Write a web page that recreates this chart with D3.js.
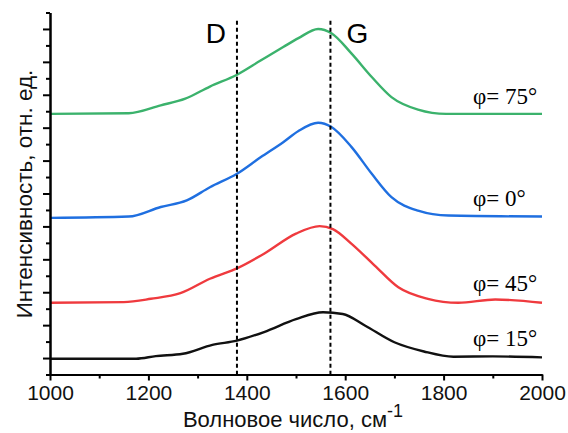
<!DOCTYPE html>
<html>
<head>
<meta charset="utf-8">
<script src="https://cdn.jsdelivr.net/npm/d3@7"></script>
<style>
  body { margin: 0; background: #fff; }
  svg { display: block; }
</style>
</head>
<body>
<svg id="chart" width="568" height="433"></svg>
<script>
// Raman spectra (offset vertically) for several polarization angles
const wavenumbers15 = [1000, 1175, 1215, 1270, 1330, 1380, 1435, 1500, 1555, 1595, 1640, 1700, 1760, 1820, 1900, 2000];
const phi15 = [0.48, 0.48, 0.56, 0.63, 0.90, 1.03, 1.29, 1.68, 1.89, 1.84, 1.49, 0.98, 0.70, 0.54, 0.55, 0.52];

const wavenumbers45 = [1000, 1150, 1205, 1265, 1325, 1382, 1435, 1500, 1548, 1575, 1613, 1660, 1708, 1768, 1830, 1905, 2000];
const phi45 = [2.18, 2.20, 2.30, 2.47, 2.91, 3.24, 3.67, 4.28, 4.51, 4.42, 3.97, 3.31, 2.65, 2.30, 2.18, 2.28, 2.18];

const wavenumbers0 = [1000, 1160, 1225, 1278, 1325, 1380, 1428, 1474, 1505, 1545, 1572, 1613, 1654, 1694, 1748, 1810, 2000];
const phi0 = [4.76, 4.80, 5.09, 5.29, 5.69, 6.10, 6.60, 7.06, 7.40, 7.65, 7.52, 6.91, 6.10, 5.39, 4.98, 4.83, 4.80];

const wavenumbers75 = [1000, 1160, 1225, 1275, 1325, 1380, 1428, 1474, 1505, 1545, 1572, 1613, 1654, 1694, 1748, 1805, 2000];
const phi75 = [7.92, 7.94, 8.18, 8.38, 8.75, 9.11, 9.54, 9.95, 10.22, 10.50, 10.37, 9.75, 9.04, 8.43, 8.05, 7.92, 7.92];

const seriesNames = ["φ= 15°", "φ= 45°", "φ= 0°", "φ= 75°"];
const seriesColors = ["#111111", "#ef3a3e", "#1f6fe0", "#3bb26c"];
const labelValues = [0.86, 2.55, 5.12, 8.232];

// Band positions marked with dashed guides
const bandNames = ["D", "G"];
const bandPositions = [1380, 1570];

const xTicksMajor = [1000, 1200, 1400, 1600, 1800, 2000];
const xTicksMinor = [1100, 1300, 1500, 1700, 1900];
const yTicksMajor = [0.5, 1.5, 2.5, 3.5, 4.5, 5.5, 6.5, 7.5, 8.5, 9.5, 10.5];
const yTicksMinor = [0, 1, 2, 3, 4, 5, 6, 7, 8, 9, 10, 11];

const series = [
  { x: wavenumbers15, y: phi15 },
  { x: wavenumbers45, y: phi45 },
  { x: wavenumbers0, y: phi0 },
  { x: wavenumbers75, y: phi75 }
].map((s, i) => ({
  name: seriesNames[i],
  color: seriesColors[i],
  labelY: labelValues[i],
  points: s.x.map((w, j) => [w, s.y[j]])
}));

const svg = d3.select("#chart");
const plotLeft = 50, plotRight = 542, plotTop = 12.5, plotBottom = 374.5;

const x = d3.scaleLinear().domain([1000, 2000]).range([plotLeft, plotRight]);
const y = d3.scaleLinear().domain([0, 11]).range([plotBottom, plotTop]);

const font = "Arial, 'Liberation Sans', sans-serif";
const serif = "'Liberation Serif', 'Times New Roman', Times, serif";

// Spectra
const line = d3.line()
  .x(d => x(d[0]))
  .y(d => y(d[1]))
  .curve(d3.curveMonotoneX);

svg.append("g").selectAll("path")
  .data(series)
  .join("path")
  .attr("d", d => line(d.points))
  .attr("fill", "none")
  .attr("stroke", d => d.color)
  .attr("stroke-width", 2.4)
  .attr("stroke-linejoin", "round");

// Dashed band guides
svg.append("g").selectAll("line")
  .data(bandPositions)
  .join("line")
  .attr("x1", d => x(d)).attr("x2", d => x(d))
  .attr("y1", y(10.75)).attr("y2", plotBottom)
  .attr("stroke", "#000")
  .attr("stroke-width", 2)
  .attr("stroke-dasharray", "4,3");

svg.append("g").selectAll("text")
  .data(bandNames)
  .join("text")
  .attr("x", (d, i) => x(bandPositions[i]) + (i === 0 ? -21 : 27))
  .attr("y", 42.5)
  .attr("text-anchor", "middle")
  .attr("font-family", font)
  .attr("font-size", 28)
  .attr("fill", "#000")
  .text(d => d);

// Series labels
svg.append("g").selectAll("text")
  .data(series)
  .join("text")
  .attr("x", 473)
  .attr("y", d => y(d.labelY))
  .style("font-family", serif)
  .attr("font-size", 23)
  .attr("fill", "#000")
  .text(d => d.name);

// Axes
const xAxisMajor = d3.axisBottom(x).tickValues(xTicksMajor).tickSize(6).tickSizeOuter(0).tickFormat(d3.format("d"));
const xAxisMinor = d3.axisBottom(x).tickValues(xTicksMinor).tickSize(4).tickSizeOuter(0).tickFormat("");
const yAxisMajor = d3.axisLeft(y).tickValues(yTicksMajor).tickSize(7).tickSizeOuter(0).tickFormat("");
const yAxisMinor = d3.axisLeft(y).tickValues(yTicksMinor).tickSize(4).tickSizeOuter(0).tickFormat("");

function styleAxis(g) {
  g.selectAll("path.domain").attr("stroke", "#000").attr("stroke-width", 2);
  g.selectAll(".tick line").attr("stroke", "#000").attr("stroke-width", 2);
  g.selectAll(".tick text")
    .attr("font-family", font)
    .attr("font-size", 21)
    .attr("fill", "#111");
}

svg.append("g").attr("transform", `translate(0,${plotBottom})`).call(xAxisMinor).call(styleAxis);
svg.append("g").attr("transform", `translate(0,${plotBottom})`).call(xAxisMajor).call(styleAxis)
  .selectAll(".tick text").attr("y", 9).attr("dy", "0.8em");
svg.append("g").attr("transform", `translate(${plotLeft},0)`).call(yAxisMinor).call(styleAxis);
svg.append("g").attr("transform", `translate(${plotLeft},0)`).call(yAxisMajor).call(styleAxis);

// Axis titles
const xTitle = svg.append("text")
  .attr("x", 293)
  .attr("y", 427)
  .attr("text-anchor", "middle")
  .attr("font-family", font)
  .attr("font-size", 22)
  .attr("fill", "#111");
xTitle.append("tspan").text("Волновое число, см");
xTitle.append("tspan").attr("dy", -10).attr("font-size", 18).text("-1");

svg.append("text")
  .attr("transform", `translate(32,194) rotate(-90)`)
  .attr("text-anchor", "middle")
  .attr("font-family", font)
  .attr("font-size", 22.5)
  .attr("fill", "#111")
  .text("Интенсивность, отн. ед.");
</script>
</body>
</html>
